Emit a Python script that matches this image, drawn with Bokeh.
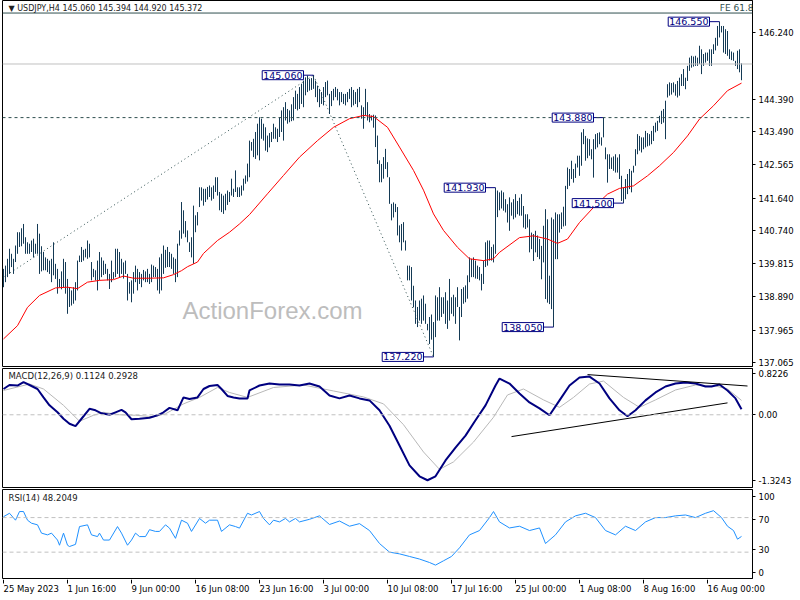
from bokeh.plotting import figure
from bokeh.layouts import column
from bokeh.models import (Range1d, FixedTicker, PrintfTickFormatter, CustomJSTickFormatter,
                          Span, Label, LinearAxis, GlobalInlineStyleSheet)
from bokeh.core.properties import value
from bokeh.embed import file_html
from bokeh.resources import INLINE

# ---------------- data (H4 bars, 25 May 08:00 -> 18 Aug) ----------------
bar_high = [
139.67,139.76,139.95,140.23,140.09,139.95,140.32,140.69,140.69,140.80,
140.92,140.55,140.41,140.37,140.46,140.51,140.37,140.92,140.65,140.30,
140.14,139.99,139.95,139.90,139.95,140.41,139.81,139.67,139.39,139.60,
139.95,139.86,139.39,139.16,139.07,139.16,139.30,139.90,140.04,140.28,
140.20,140.23,140.46,140.37,139.86,139.67,139.63,139.90,140.14,139.99,
139.90,139.81,139.67,139.53,139.90,139.58,140.23,140.23,140.14,139.95,
139.85,139.90,139.53,139.30,139.35,139.58,139.76,139.67,139.58,139.53,
139.64,139.60,139.67,139.53,139.79,139.76,139.72,139.67,139.99,140.09,
140.32,140.20,140.28,140.14,140.09,139.99,139.95,140.37,140.74,141.53,
141.30,141.00,140.74,140.41,140.55,141.43,141.16,141.25,141.94,141.94,
141.90,141.90,141.95,141.99,141.94,141.99,142.22,142.22,141.81,141.76,
141.71,141.76,141.85,141.81,142.18,141.90,142.41,141.94,141.94,141.99,
142.18,142.27,142.60,143.24,
143.20,143.29,143.48,143.71,143.89,143.85,143.71,143.61,143.38,143.45,
143.48,143.71,143.61,143.57,143.89,144.08,144.17,144.31,144.12,144.08,
144.25,144.45,144.63,144.54,144.73,144.82,144.91,145.00,145.05,144.96,
144.98,145.06,144.91,144.77,144.68,144.59,144.73,144.87,144.91,144.54,
144.62,144.68,144.73,144.68,144.59,144.59,144.54,144.54,144.59,144.68,
144.73,144.65,144.59,144.68,144.73,144.22,144.17,144.68,144.31,143.98,
143.94,143.96,143.94,143.38,142.69,142.59,142.78,143.01,142.64,142.22,
141.48,141.52,141.48,141.39,140.88,140.92,140.97,140.46,139.76,139.76,
139.72,139.20,138.79,138.61,138.79,138.84,138.93,138.70,138.14,138.33,
138.40,138.19,138.93,138.88,139.16,138.88,138.88,139.02,138.79,139.39,
138.88,138.95,138.88,139.16,138.61,139.11,139.16,139.21,139.49,139.99,
139.95,139.99,139.90,139.76,139.72,139.53,139.90,140.41,140.46,140.46,
140.28,140.35,141.93,141.85,141.80,
141.85,141.80,141.61,141.47,141.66,141.52,141.61,141.75,141.56,141.65,
141.75,141.42,141.19,141.19,141.05,140.68,140.64,140.73,140.60,140.50,
140.31,140.87,141.33,141.05,139.48,141.10,141.05,141.24,141.19,141.19,
141.24,141.40,141.98,142.49,142.45,142.68,142.45,142.60,142.82,142.82,
143.47,143.56,143.37,143.30,143.28,143.00,143.28,143.42,143.45,143.47,
143.33,143.88,143.05,142.86,142.86,142.77,142.80,142.86,142.77,142.86,
142.26,141.93,142.17,142.31,142.45,142.40,142.54,143.00,143.42,143.37,
143.33,143.33,143.51,143.45,143.42,143.51,143.65,143.74,143.79,143.93,
144.07,144.12,144.35,144.81,144.86,144.84,144.86,144.81,144.90,144.99,
145.09,145.23,144.99,145.32,145.55,145.60,145.58,145.60,145.55,145.88,
145.78,145.65,145.69,145.69,145.78,145.78,145.92,146.10,146.43,146.55,
146.43,146.43,146.34,146.29,145.78,145.72,145.69,145.46,145.74,145.78,
145.39]

bar_low = [
139.16,139.30,139.44,139.53,139.72,139.53,139.86,140.09,140.28,140.30,
140.37,140.09,140.09,140.09,140.14,139.99,140.09,140.09,139.53,139.60,
139.63,139.63,139.58,139.53,139.30,139.49,139.39,138.98,139.16,139.10,
139.16,138.98,138.42,138.61,138.65,138.70,138.79,139.07,139.86,139.86,
139.90,139.99,139.95,139.99,139.35,139.44,139.35,139.07,139.35,139.44,
139.50,139.53,139.35,139.11,139.30,139.39,139.44,139.53,139.44,139.53,
139.40,139.53,138.79,138.98,138.74,138.98,139.30,139.07,139.25,139.16,
139.35,139.30,139.30,139.25,139.30,139.44,139.44,139.07,138.98,139.07,
139.53,139.70,139.72,139.72,139.67,139.53,139.30,139.44,140.32,140.51,
140.65,140.55,140.41,140.14,139.99,139.81,140.69,140.88,141.39,141.57,
141.43,141.53,141.60,141.67,141.57,141.62,141.81,141.71,141.30,141.25,
141.20,141.30,141.45,141.53,141.71,141.67,141.81,141.67,141.67,141.71,
141.85,142.04,142.10,142.22,
142.96,142.78,142.73,142.83,142.69,143.29,143.24,142.96,142.92,143.05,
143.20,143.29,143.29,143.20,143.34,143.48,143.24,143.80,143.71,143.75,
143.78,143.80,144.12,144.08,144.12,144.26,144.17,144.50,144.59,144.63,
144.65,144.68,144.45,144.31,144.17,144.26,144.22,144.45,144.50,143.98,
144.20,144.36,144.45,144.36,144.22,144.31,144.26,144.22,144.31,144.40,
144.17,144.22,144.26,144.17,144.31,143.85,143.57,143.94,143.80,143.75,
143.80,143.60,143.06,142.59,142.08,142.08,142.18,142.45,142.22,141.48,
141.02,141.10,141.25,140.60,140.41,140.18,140.41,140.18,139.35,139.35,
138.79,138.60,138.14,138.05,138.23,138.14,138.23,138.14,137.96,137.58,
137.70,137.22,137.77,138.23,138.23,138.33,138.42,138.14,138.00,138.23,
138.42,138.35,138.14,138.61,137.68,138.33,138.70,138.74,138.84,139.30,
139.44,139.44,139.40,139.39,139.35,139.07,139.25,139.72,139.76,139.90,
139.90,139.85,140.09,141.11,141.30,
141.35,141.29,141.24,140.96,140.73,141.15,141.05,141.10,141.19,141.15,
141.15,140.82,140.78,140.82,140.13,140.22,139.89,140.13,140.00,139.94,
139.38,139.85,138.83,138.73,138.69,138.55,138.05,139.94,139.94,140.68,
140.78,140.85,140.87,141.89,141.98,142.17,142.07,142.20,142.49,142.26,
142.54,143.14,142.68,142.75,142.82,142.72,142.21,143.00,143.05,143.14,
143.10,143.33,142.72,142.07,142.45,142.45,142.40,142.35,142.35,142.17,
141.56,141.50,141.61,141.75,141.89,141.80,142.35,142.54,142.86,142.96,
142.91,143.00,143.05,143.08,143.10,143.14,143.23,143.47,143.51,143.74,
143.70,143.74,143.28,144.44,144.49,144.52,144.58,144.49,144.44,144.49,
144.76,144.76,144.67,144.90,145.18,145.27,145.30,145.32,145.32,145.37,
145.09,145.32,145.41,145.46,145.32,145.32,145.65,145.75,145.88,146.11,
146.25,145.69,145.65,145.60,145.51,145.48,145.46,145.32,145.23,145.14,
144.92]

ma_idx = [0,7,12,18,26,32,37,42,48,55,60,65,73,80,85,89,92,97,100,107,113,118,123,
          132,140,148,157,165,173,180,185,192,198,205,210,215,220,227,233,240,245,248,
          258,265,272,277,282,288,295,302,308,315,322,328,335,342,348,355,362,369]
ma_val = [137.72,138.09,138.60,138.93,139.14,139.16,139.12,139.30,139.35,139.37,139.47,
          139.41,139.41,139.42,139.51,139.62,139.73,139.86,140.10,140.46,140.69,140.92,141.18,
          141.76,142.27,142.78,143.24,143.61,143.85,143.94,143.91,143.61,143.06,142.41,141.86,
          141.20,140.74,140.27,139.95,139.90,139.95,140.13,140.54,140.59,140.50,140.38,140.50,
          140.96,141.38,141.75,141.91,141.98,142.26,142.54,142.91,143.37,143.84,144.21,144.63,144.84]

macd_idx = [0,3,7,10,13,17,20,23,27,30,33,36,39,43,46,49,53,56,59,61,64,68,73,77,80,83,87,
            90,93,97,100,103,107,109,112,115,118,122,123,128,133,138,143,148,153,158,163,168,
            173,178,183,188,193,198,203,208,212,216,221,226,231,236,241,246,248,253,258,263,
            268,273,278,283,288,293,298,303,308,312,316,321,326,331,336,341,346,351,354,358,
            362,366,369]
macd_val = [0.52,0.60,0.59,0.66,0.60,0.52,0.35,0.19,0.05,-0.08,-0.18,-0.23,-0.08,0.12,0.09,
            0.03,0.00,0.05,0.10,0.05,-0.09,-0.08,-0.06,-0.01,0.05,0.14,0.09,0.35,0.32,0.35,
            0.52,0.58,0.60,0.52,0.38,0.35,0.33,0.33,0.49,0.59,0.63,0.61,0.61,0.59,0.63,0.57,
            0.39,0.33,0.39,0.33,0.29,0.09,-0.22,-0.62,-1.02,-1.24,-1.32,-1.24,-0.92,-0.66,
            -0.42,-0.11,0.19,0.59,0.73,0.63,0.43,0.25,0.13,-0.01,0.29,0.59,0.75,0.77,0.63,
            0.33,0.09,-0.03,0.09,0.29,0.45,0.57,0.63,0.65,0.63,0.57,0.57,0.61,0.49,0.33,0.11]
sig_idx = [0,13,20,30,38,45,50,58,66,75,81,90,98,107,113,122,135,150,165,180,190,200,210,
           218,225,235,245,252,260,270,278,285,293,300,310,318,326,336,346,356,362,369]
sig_val = [0.49,0.62,0.52,0.19,-0.13,-0.01,0.05,0.00,-0.01,-0.04,0.02,0.22,0.35,0.55,0.45,
           0.35,0.55,0.60,0.48,0.36,0.22,-0.20,-0.75,-1.10,-0.95,-0.55,-0.05,0.40,0.52,0.30,
           0.15,0.35,0.62,0.68,0.35,0.15,0.30,0.50,0.60,0.58,0.52,0.29]

rsi_idx = [0,3,6,8,10,12,14,17,19,22,24,27,28,30,32,33,36,38,42,44,47,48,50,53,57,59,62,64,
           66,68,71,73,76,78,81,83,86,89,92,94,98,101,103,107,109,113,116,118,122,124,128,
           130,133,135,138,141,143,146,148,153,158,163,168,173,178,183,188,193,198,203,208,
           213,216,220,224,228,233,238,243,245,248,253,258,263,268,271,276,281,286,291,296,
           301,306,311,316,321,326,331,336,341,346,351,355,359,362,365,367,369]
rsi_val = [71,75,67,77,77,67,63.5,61.6,52,50,52,44,38,52,38,36.5,39,59.6,61.6,50,48,52,44,
           44,59.6,52,38,44,52,48,48,56,54,54,61.6,57.8,46,67,63.5,54,69,63.5,67,67,54,61.6,
           59.6,57.8,75,73,77,69,61.6,67,65,69,65,69,65,68,72,62,66,60,63,55,40,30,28,25,22,
           18,15,20,25,35,50,55,70,77,65,58,60,55,58,40,50,65,72,75,70,55,50,60,55,65,70,70,
           72,73,70,75,78,70,60,55,45,48.2]

fe_idx = [0, 155, 215]
fe_price = [139.44, 145.06, 137.22]
fe_level = 146.79

lab_idx = [155, 358, 300, 246, 310, 275, 215]
lab_price = [145.060, 146.550, 143.880, 141.930, 141.500, 138.050, 137.220]

macd_tl_low_idx = [254, 362]
macd_tl_low_val = [-0.44, 0.24]
macd_tl_up_idx = [292, 372]
macd_tl_up_val = [0.81, 0.58]

price_ticks = [146.240, 144.390, 143.490, 142.565, 141.640, 140.740, 139.815, 138.890, 137.965, 137.065]
macd_ticks = [0.8226, 0.0, -1.3243]
rsi_ticks = [0, 30, 70, 100]
last_price = 145.372
level_price = 143.880
time_labels = ["25 May 2023", "1 Jun 16:00", "9 Jun 00:00", "16 Jun 08:00", "23 Jun 16:00",
               "3 Jul 00:00", "10 Jul 08:00", "17 Jul 16:00", "25 Jul 00:00", "1 Aug 08:00",
               "8 Aug 16:00", "16 Aug 00:00"]
bars_per_label = 32

# ---------------- styling ----------------
FONT = "DejaVu Sans"
BAR = "#143A55"
NAVY = "#000080"
SLATE = "#2F4F4F"
XR = Range1d(-0.5, 374.5)


def style_axis(ax):
    ax.major_tick_out = 3
    ax.major_tick_in = 0
    ax.minor_tick_line_color = None
    ax.major_label_text_font = FONT
    ax.major_label_text_font_size = "8.5px"
    ax.major_label_text_color = "black"
    ax.major_label_standoff = 3
    ax.axis_line_color = "black"
    ax.major_tick_line_color = "black"


def base(h, yr, top, bottom, yaxis="right"):
    f = figure(width=800, height=h, x_range=XR, y_range=yr, output_backend="svg",
               toolbar_location=None, min_border_left=2, min_border_right=48,
               min_border_top=top, min_border_bottom=bottom,
               y_axis_location=yaxis, x_axis_location=None)
    f.grid.visible = False
    f.outline_line_color = "black"
    f.outline_line_width = 1
    f.background_fill_color = "white"
    f.border_fill_color = "white"
    if yaxis is not None:
        style_axis(f.yaxis[0])
    return f


# ---------------- main price panel ----------------
p1 = base(367, Range1d(136.953, 147.139), 0, 1)
p1.yaxis[0].ticker = FixedTicker(ticks=price_ticks)
p1.yaxis[0].formatter = PrintfTickFormatter(format="%.3f")

idx = list(range(len(bar_high)))

p1.add_layout(Label(x=270, x_units="screen", y=138.51, text="ActionForex.com",
                    text_align="center", text_baseline="middle", text_font="Liberation Sans",
                    text_font_size="24px", text_color="#BDBDBD", level="underlay"))

p1.add_layout(Span(location=last_price, dimension="width", line_color="#C0C0C0", line_width=1))
p1.add_layout(Span(location=level_price, dimension="width", line_color=SLATE, line_width=1,
                   line_dash="3 3"))
p1.add_layout(Span(location=fe_level, dimension="width", line_color=SLATE, line_width=1))

p1.line(fe_idx[:2], fe_price[:2], line_color=SLATE, line_dash="1 3", line_width=1)
p1.line(fe_idx[1:], fe_price[1:], line_color=SLATE, line_dash="1 3", line_width=1)

p1.segment(x0=idx, y0=bar_low, x1=idx, y1=bar_high, line_color=BAR, line_width=1)
p1.line(ma_idx, ma_val, line_color="red", line_width=1)

for bi, pr in zip(lab_idx, lab_price):
    p1.segment(x0=[bi - 5], y0=[pr], x1=[bi], y1=[pr], line_color=NAVY, line_width=1)
    p1.add_layout(Label(x=bi - 5, y=pr, text=f"{pr:.3f}", text_align="right",
                        text_baseline="middle", text_font=FONT, text_font_size="9.5px",
                        text_color=NAVY, background_fill_color="white",
                        border_line_color=NAVY, border_line_width=1, padding=1))

p1.add_layout(Label(x=6, x_units="screen", y=fe_level,
                    text="\u25BC USDJPY,H4  145.060 145.394 144.920 145.372",
                    text_align="left", text_baseline="bottom", text_font=FONT,
                    text_font_size="8px", text_color="#202020"))
p1.add_layout(Label(x=751, x_units="screen", y=fe_level, text="FE 61.8",
                    text_align="right", text_baseline="bottom", text_font=FONT,
                    text_font_size="9px", text_color=SLATE))

p1.add_layout(Label(x=756, x_units="screen", y=last_price, text=f"{last_price:.3f}",
                    text_align="left", text_baseline="middle", text_font=FONT,
                    text_font_size="8.5px", text_color="white", background_fill_color="black",
                    padding=1))
p1.add_layout(Label(x=756, x_units="screen", y=level_price, text=f"{level_price:.3f}",
                    text_align="left", text_baseline="middle", text_font=FONT,
                    text_font_size="8.5px", text_color="#E8E8E8", background_fill_color=SLATE,
                    padding=1))

# ---------------- MACD panel ----------------
p2 = base(121, Range1d(-1.466, 0.933), 1, 1)
p2.yaxis[0].ticker = FixedTicker(ticks=macd_ticks)
p2.yaxis[0].formatter = CustomJSTickFormatter(
    code="return Math.abs(tick) < 1e-9 ? '0.00' : tick.toFixed(4);")
p2.add_layout(Span(location=0, dimension="width", line_color="#C0C0C0", line_width=1,
                   line_dash="4 3"))
p2.line(sig_idx, sig_val, line_color="#B8B8B8", line_width=1)
p2.line(macd_idx, macd_val, line_color=NAVY, line_width=2)
p2.line(macd_tl_low_idx, macd_tl_low_val, line_color="black", line_width=1)
p2.line(macd_tl_up_idx, macd_tl_up_val, line_color="black", line_width=1)
p2.add_layout(Label(x=6, x_units="screen", y=0.772, text="MACD(12,26,9) 0.1124 0.2928",
                    text_align="left", text_baseline="middle", text_font=FONT,
                    text_font_size="8.5px", text_color="#202020"))

# ---------------- RSI panel ----------------
p3 = base(91, Range1d(-0.5, 102.5), 1, 1, yaxis=None)
# MetaTrader pulls the 0 / 100 labels inside the pane: separate label scale for the axis
p3.extra_y_ranges = {"lab": Range1d(-7.9, 109.2)}
rax = LinearAxis(y_range_name="lab", ticker=FixedTicker(ticks=rsi_ticks),
                 formatter=PrintfTickFormatter(format="%d"))
style_axis(rax)
p3.add_layout(rax, "right")
for lv in (70, 30):
    p3.add_layout(Span(location=lv, dimension="width", line_color="#C0C0C0", line_width=1,
                       line_dash="4 3"))
p3.line(rsi_idx, rsi_val, line_color="#1E90FF", line_width=1)
p3.add_layout(Label(x=6, x_units="screen", y=92.8, text="RSI(14) 48.2049",
                    text_align="left", text_baseline="middle", text_font=FONT,
                    text_font_size="8.5px", text_color="#202020"))

# ---------------- time axis strip ----------------
p4 = figure(width=800, height=21, x_range=XR, y_range=Range1d(0, 21), output_backend="svg",
            toolbar_location=None, min_border_left=2, min_border_right=48, min_border_top=0,
            min_border_bottom=0, x_axis_location=None, y_axis_location=None)
p4.grid.visible = False
p4.outline_line_color = None
p4.background_fill_color = "white"
p4.border_fill_color = "white"
tick_idx = [k * bars_per_label for k in range(len(time_labels))]
p4.segment(x0=tick_idx, y0=[21] * len(tick_idx), x1=tick_idx, y1=[17] * len(tick_idx),
           line_color="black", line_width=1)
p4.text(x=tick_idx, y=[12] * len(tick_idx), text=time_labels, text_align="left",
        text_baseline="middle", text_font=value(FONT), text_font_size="8.5px",
        text_color="black", level="overlay")

layout = column(p1, p2, p3, p4, spacing=0)
layout.stylesheets = [GlobalInlineStyleSheet(css="html, body { margin: 0 !important; padding: 0; }")]

open("out.html", "w").write(file_html(layout, INLINE))
